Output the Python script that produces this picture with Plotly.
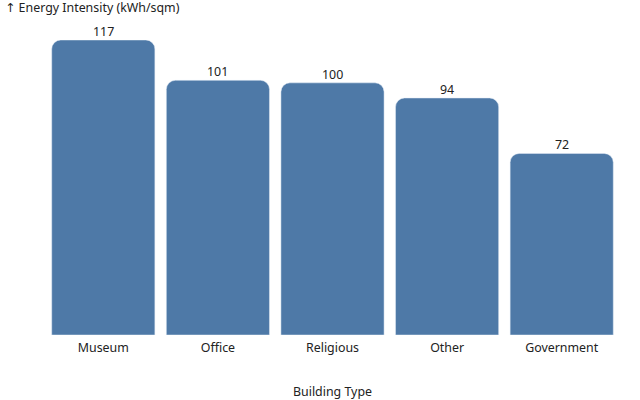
import plotly.graph_objects as go

categories = ["Museum", "Office", "Religious", "Other", "Government"]
values = [117, 101, 100, 94, 72]

FONT = "Noto Sans, Open Sans, sans-serif"
FS = 12.4
fig = go.Figure(go.Bar(
    x=categories, y=values,
    marker=dict(color="#4e79a7", cornerradius=9),
    width=0.9, cliponaxis=False, hoverinfo="skip",
))
for c, v in zip(categories, values):
    fig.add_annotation(x=c, y=v, text=str(v), showarrow=False, yanchor="bottom",
                       yshift=-2, font=dict(size=FS, color="#222", family=FONT))
fig.update_layout(
    width=640, height=400,
    margin=dict(l=46, r=21, t=40, b=65, autoexpand=False),
    plot_bgcolor="white", paper_bgcolor="white",
    font=dict(family=FONT, size=FS, color="#222"),
    title=dict(text="<span style='font-family:DejaVu Sans'>↑</span> Energy Intensity (kWh/sqm)",
               xref="container", yref="container",
               x=5/640, xanchor="left", y=1-8/400, yanchor="middle",
               font=dict(size=FS, color="#222", family=FONT)),
    xaxis=dict(title=dict(text="Building Type", standoff=35, font=dict(size=FS, family=FONT)),
               automargin=False, showline=False, ticks="", ticklabelstandoff=4,
               tickfont=dict(size=FS, family=FONT)),
    yaxis=dict(range=[0, 117], visible=False, fixedrange=True),
    showlegend=False,
)
fig.write_html("out.html", config={"displayModeBar": False},
               post_script="document.body.style.margin='0';")
